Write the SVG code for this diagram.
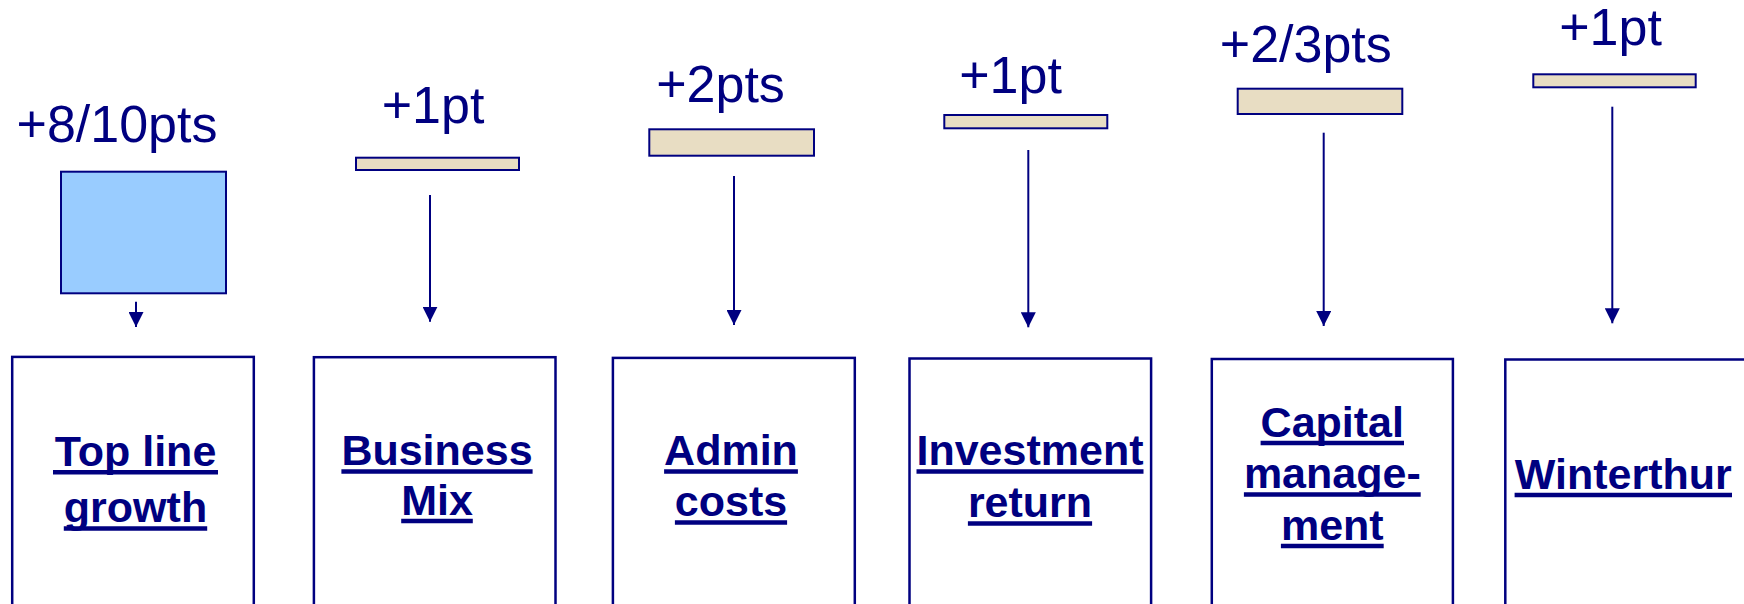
<svg xmlns="http://www.w3.org/2000/svg" width="1744" height="604" viewBox="0 0 1744 604">
  <style>
    .gain { font-family: "Liberation Sans", Arial, sans-serif; font-size: 52px; fill: #000080; text-anchor: middle; }
    .bar { fill: #E8DDC3; stroke: #000080; stroke-width: 2; }
    .base { fill: #99CCFF; stroke: #000080; stroke-width: 2; }
    .box { fill: #FFFFFF; stroke: #000080; stroke-width: 2.5; }
    .label { font-family: "Liberation Sans", Arial, sans-serif; font-size: 43px; font-weight: bold; fill: #000080; text-anchor: middle; }
    .ul { stroke: #000080; stroke-width: 4.5; }
    .link { stroke: #000080; stroke-width: 2; fill: none; marker-end: url(#head); }
  </style>
  <defs>
    <marker id="head" viewBox="0 0 10 10" refX="10" refY="5" markerWidth="7.5" markerHeight="7.5" markerUnits="strokeWidth" orient="auto">
      <path d="M0,0 L10,5 L0,10 z" fill="#000080"/>
    </marker>
  </defs>

  <rect width="1744" height="604" fill="#FFFFFF"/>

  <!-- Contribution bars with their values -->
  <g id="gain-topline">
    <text class="gain" x="117" y="141.5">+8/10pts</text>
    <rect class="base" x="61" y="171.7" width="165" height="121.6"/>
  </g>
  <g id="gain-mix">
    <text class="gain" x="433" y="123.3">+1pt</text>
    <rect class="bar" x="356" y="157.7" width="163" height="12.3"/>
  </g>
  <g id="gain-admin">
    <text class="gain" x="720.5" y="101.7">+2pts</text>
    <rect class="bar" x="649.3" y="129.3" width="164.7" height="26.4"/>
  </g>
  <g id="gain-investment">
    <text class="gain" x="1010.5" y="93.3">+1pt</text>
    <rect class="bar" x="944.3" y="115" width="163" height="13.3"/>
  </g>
  <g id="gain-capital">
    <text class="gain" x="1305.8" y="62.3">+2/3pts</text>
    <rect class="bar" x="1237.7" y="88.7" width="164.6" height="25.3"/>
  </g>
  <g id="gain-winterthur">
    <text class="gain" x="1610.5" y="45">+1pt</text>
    <rect class="bar" x="1533.3" y="74.3" width="162.4" height="13"/>
  </g>

  <!-- Arrows from each bar down to its driver -->
  <g id="connectors">
    <line class="link" x1="136" y1="301.7" x2="136" y2="327"/>
    <line class="link" x1="430" y1="195" x2="430" y2="321.7"/>
    <line class="link" x1="734" y1="176" x2="734" y2="325"/>
    <line class="link" x1="1028.3" y1="150" x2="1028.3" y2="327.3"/>
    <line class="link" x1="1323.7" y1="132.7" x2="1323.7" y2="326"/>
    <line class="link" x1="1612.3" y1="106.7" x2="1612.3" y2="323.3"/>
  </g>

  <!-- Driver boxes; underlines span each word's advance width -->
  <g id="driver-topline">
    <rect class="box" x="12.2" y="356.9" width="241.6" height="300"/>
    <text class="label" x="135.5" y="465.7">Top line</text>
    <line class="ul" x1="53" y1="472.3" x2="218" y2="472.3"/>
    <text class="label" x="135.5" y="522">growth</text>
    <line class="ul" x1="63.8" y1="528.5" x2="207.2" y2="528.5"/>
  </g>
  <g id="driver-mix">
    <rect class="box" x="313.9" y="357.2" width="241.6" height="300"/>
    <text class="label" x="437" y="465">Business</text>
    <line class="ul" x1="341.4" y1="471.6" x2="532.6" y2="471.6"/>
    <text class="label" x="437" y="514.5">Mix</text>
    <line class="ul" x1="401.2" y1="521.1" x2="472.8" y2="521.1"/>
  </g>
  <g id="driver-admin">
    <rect class="box" x="612.9" y="357.9" width="241.9" height="300"/>
    <text class="label" x="731" y="465">Admin</text>
    <line class="ul" x1="664.1" y1="471.6" x2="797.9" y2="471.6"/>
    <text class="label" x="731" y="516">costs</text>
    <line class="ul" x1="674.9" y1="522.6" x2="787.1" y2="522.6"/>
  </g>
  <g id="driver-investment">
    <rect class="box" x="909.5" y="358.5" width="241.6" height="300"/>
    <text class="label" x="1030" y="465">Investment</text>
    <line class="ul" x1="916.5" y1="471.6" x2="1143.5" y2="471.6"/>
    <text class="label" x="1030" y="517">return</text>
    <line class="ul" x1="967.9" y1="523.6" x2="1092.1" y2="523.6"/>
  </g>
  <g id="driver-capital">
    <rect class="box" x="1211.8" y="359" width="241.1" height="300"/>
    <text class="label" x="1332.3" y="436.5">Capital</text>
    <line class="ul" x1="1260.6" y1="443.1" x2="1404" y2="443.1"/>
    <text class="label" x="1332.3" y="488">manage-</text>
    <line class="ul" x1="1243.9" y1="494.6" x2="1420.7" y2="494.6"/>
    <text class="label" x="1332.3" y="539.5">ment</text>
    <line class="ul" x1="1280.9" y1="546.1" x2="1383.7" y2="546.1"/>
  </g>
  <g id="driver-winterthur">
    <rect class="box" x="1505.3" y="359.5" width="241.6" height="300"/>
    <text class="label" x="1623.3" y="488.5">Winterthur</text>
    <line class="ul" x1="1514.6" y1="495.1" x2="1732" y2="495.1"/>
  </g>
</svg>
